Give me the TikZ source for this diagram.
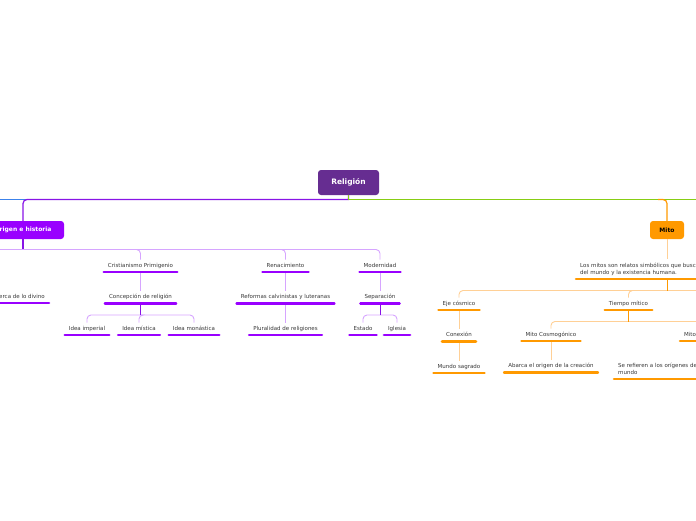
\documentclass[tikz,border=0pt]{standalone}
\usepackage{fontspec}
\setmainfont{DejaVu Sans}

\definecolor{rootpurple}{RGB}{102,45,145}
\definecolor{vio}{RGB}{153,0,255}
\definecolor{viodark}{RGB}{136,20,230}
\definecolor{violight}{RGB}{214,165,255}
\definecolor{org}{RGB}{255,153,0}
\definecolor{orglight}{RGB}{255,208,150}
\definecolor{lime}{RGB}{135,205,20}
\definecolor{sky}{RGB}{60,130,235}
\definecolor{ink}{RGB}{55,55,55}

\begin{document}
\begin{tikzpicture}[x=1pt,y=-1pt,node distance=31.5pt,
  topic/.style={rounded corners=3pt,minimum height=18pt,
    font=\bfseries\fontsize{6}{7}\selectfont},
  leaf/.style={anchor=south,text=ink,font=\fontsize{5.5}{6.5}\selectfont,
    inner xsep=4pt,inner ysep=3.2pt,text height=4pt,text depth=1.5pt},
  note/.style={leaf,align=left,text height=,font=\fontsize{5.5}{7}\selectfont},
  bar/.style={line width=2.6pt,line cap=round},
  stem/.style={line width=1.2pt},
  sub/.style={draw=violight,line width=0.9pt,rounded corners=4pt},
  osub/.style={draw=orglight,line width=0.9pt,rounded corners=4pt}]

  \useasboundingbox (0,0) rectangle (696,520);

  % main topics
  \node[topic,fill=rootpurple,text=white,minimum width=61pt,minimum height=25pt,
    font=\bfseries\fontsize{7.5}{9}\selectfont] (root) at (348.5,182.5) {Religión};
  \node[topic,fill=vio,text=white,minimum width=82pt] (origen) at (23,230) {Origen e historia};
  \node[topic,fill=org,text=black,minimum width=34pt] (mito) at (667,230) {Mito};

  % Origen e historia
  \node[leaf] (crist) at (140.5,272) {Cristianismo Primigenio};
  \node[leaf] (conc) [below of=crist] {Concepción de religión};
  \node[leaf] (imp) at (87,335) {Idea imperial};
  \node[leaf] (mis) at (139,335) {Idea mística};
  \node[leaf] (mon) at (194,335) {Idea monástica};
  \node[leaf] (ren) at (285.5,272) {Renacimiento};
  \node[leaf] (ref) [below of=ren] {Reformas calvinistas y luteranas};
  \node[leaf] (plu) [below of=ref] {Pluralidad de religiones};
  \node[leaf] (mod) at (380,272) {Modernidad};
  \node[leaf] (sep) [below of=mod] {Separación};
  \node[leaf] (est) at (363,335) {Estado};
  \node[leaf] (igl) at (397,335) {Iglesia};
  \node[leaf,anchor=south east] (acerca) at (49,303) {Acerca de lo divino};

  % Mito
  \node[note,anchor=south west] (intro) at (576,279)
    {Los mitos son relatos simbólicos que buscan explicar el origen\\del mundo y la existencia humana.};
  \node[leaf] (eje) at (459,310) {Eje cósmico};
  \node[leaf] (con) [below of=eje] {Conexión};
  \node[leaf] (mun) [below of=con] {Mundo sagrado};
  \node[leaf] (tie) at (628.5,310) {Tiempo mítico};
  \node[leaf] (cos) at (551,341) {Mito Cosmogónico};
  \node[leaf] (aba) [below of=cos] {Abarca el origen de la creación};
  \node[leaf,anchor=south west] (mitob) at (680,341) {Mito};
  \node[note,anchor=south west] (seref) at (614,379)
    {Se refieren a los orígenes del\\mundo};

  % hubs and free ends
  \coordinate (hub) at (348.5,199.5);
  \coordinate (westend) at (-10,199.5);
  \coordinate (eastend) at (710,199.5);
  \coordinate (mitojoin) at (658,199.5);
  \coordinate (ohub) at (23,249.5);
  \coordinate (owest) at (-10,249.5);
  \coordinate (chub) at (140.5,315);
  \coordinate (shub) at (380,315);
  \coordinate (ihub) at (667,290.5);
  \coordinate (ieast) at (710,290.5);
  \coordinate (thub) at (628.5,321.5);
  \coordinate (teast) at (710,321.5);

  % root branches
  \draw[stem,sky] (hub) -- (westend);
  \draw[stem,viodark] (root.south) -- (hub) [rounded corners=4pt] -| (origen.north);
  \draw[stem,lime] (root.south) -- (hub) -- (eastend);
  \draw[stem,org,rounded corners=4pt] (mito.north) |- (mitojoin);

  % Origen e historia connectors
  \draw[stem,viodark] (origen.south) -- (ohub);
  \draw[sub] (ohub) -- (owest);
  \draw[sub] (ohub) -| (crist);
  \draw[sub] (ohub) -| (ren);
  \draw[sub] (ohub) -| (mod);
  \draw[sub] (crist) -- (conc);
  \draw[sub] (chub) -| (imp);
  \draw[sub] (chub) -| (mis);
  \draw[sub] (chub) -| (mon);
  \draw[stem,viodark,line width=1pt] (conc.south) -- (chub);
  \draw[sub] (ren) -- (ref);
  \draw[sub] (ref) -- (plu);
  \draw[sub] (mod) -- (sep);
  \draw[sub] (shub) -| (est);
  \draw[sub] (shub) -| (igl);
  \draw[stem,viodark,line width=1pt] (sep.south) -- (shub);

  % Mito connectors
  \draw[osub] (mito.south) -- (mito.south |- intro.north);
  \draw[osub] (ihub) -| (eje);
  \draw[osub] (ihub) -| (tie);
  \draw[osub] (ihub) -- (ieast);
  \draw[stem,org,line width=1pt] (mito.south |- intro.south) -- (ihub);
  \draw[osub] (eje) -- (con);
  \draw[osub] (con) -- (mun);
  \draw[osub] (thub) -| (cos);
  \draw[osub] (thub) -- (teast);
  \draw[stem,org,line width=1pt] (tie.south) -- (thub);
  \draw[osub] (cos) -- (aba);

  % underlines
  \foreach \n in {crist,conc,imp,mis,mon,ren,ref,plu,mod,sep,est,igl,acerca}
    \draw[bar,vio] (\n.south west) -- (\n.south east);
  \foreach \n in {intro,eje,con,mun,tie,cos,aba,mitob,seref}
    \draw[bar,org] (\n.south west) -- (\n.south east);
\end{tikzpicture}
\end{document}
